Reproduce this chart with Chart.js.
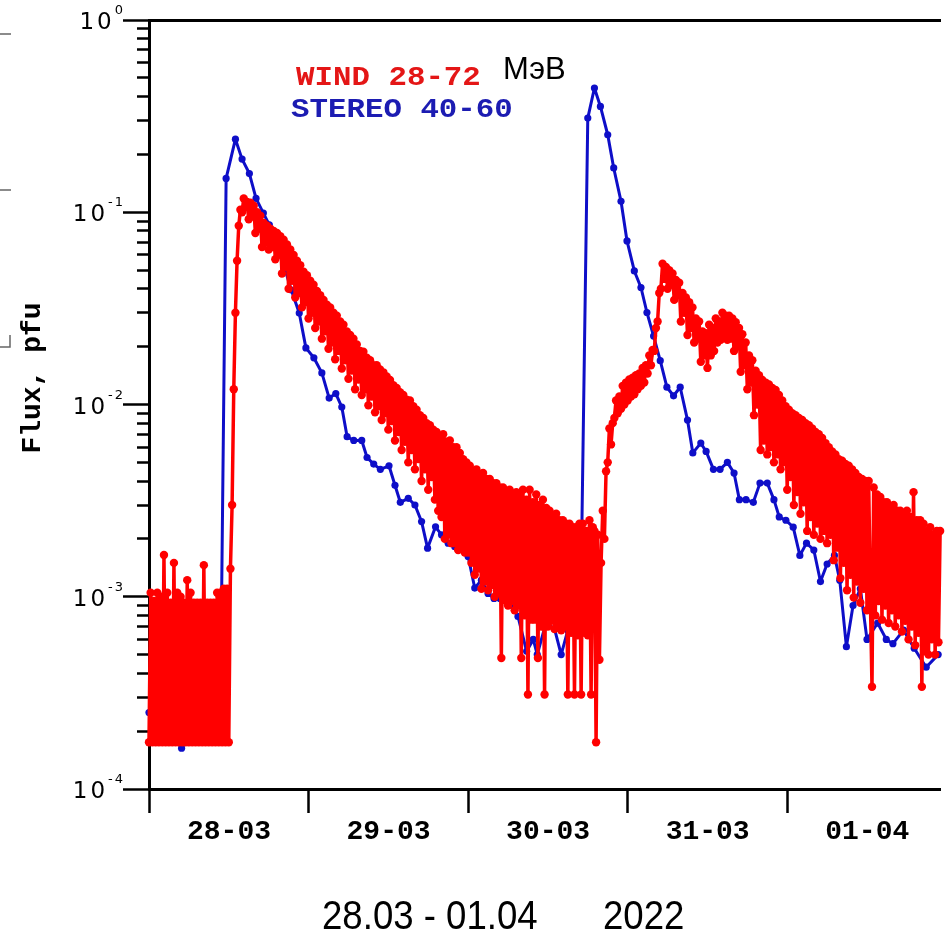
<!DOCTYPE html>
<html><head><meta charset="utf-8">
<script src="https://cdn.jsdelivr.net/npm/chart.js@4.4.1/dist/chart.umd.min.js"></script>
<style>html,body{margin:0;padding:0;background:#fff;overflow:hidden}canvas{display:block}</style>
</head><body>
<canvas id="c" width="945" height="938"></canvas>
<script>
// ---- data ----
const xTickHours = [0, 24, 48, 72, 96];
const xTickLabels = ['28-03', '29-03', '30-03', '31-03', '01-04'];
const yDecadeValues = [1e-4, 1e-3, 1e-2, 1e-1, 1];
const yDecadeExponents = ['-4', '-3', '-2', '-1', '0'];
const yMinorSteps = [2, 3, 4, 5, 6, 7, 8, 9];
const legendWind = 'WIND 28-72';
const legendStereo = 'STEREO 40-60';
const legendUnit = 'МэВ';
const yTitle = 'Flux, pfu';
const captionDates = '28.03 - 01.04';
const captionYear = '2022';

const stereoHours = [0,1,2,3,4,4.9,6,7,8,9,10,10.9,
 11.6,13.0,14.0,15.1,16.1,17.2,18.1,19.2,20.4,21.4,
 22.6,23.6,24.8,26.0,27.1,28.1,29.0,29.8,30.8,32.0,
 32.8,33.8,34.8,36.1,37.0,37.8,39.0,40.0,41.0,41.9,
 43.1,44.0,45.0,46.0,47.0,48.0,49.0,50.0,51.0,51.9,
 52.8,53.7,54.6,55.5,56.8,57.8,58.4,59.7,61.0,62.0,
 63.0,64.0,65.1,66.0,67.0,67.9,69.0,69.9,71.0,71.9,
 73.0,74.0,74.9,75.9,76.9,77.9,78.9,79.9,81.0,81.8,
 83.0,83.8,84.9,85.9,87.0,88.0,88.8,89.8,90.9,91.9,
 93.0,94.0,94.8,95.8,96.9,97.9,98.9,100.0,101.0,102.0,
 103.1,103.9,104.9,105.9,107.0,108.0,109.6,110.9,111.9,113.5,
 115.1,116.9,118.7];
const stereoFlux = [2.5e-4,4.5e-4,6.5e-4,3.5e-4,5e-4,1.63e-4,4.2e-4,7e-4,3e-4,5.5e-4,6e-4,8.5e-4,
 0.150,0.24,0.189,0.159,0.118,0.099,0.086,0.0675,0.0513,0.0394,
 0.0299,0.0197,0.0175,0.0146,0.0108,0.0114,0.0097,0.0068,0.0065,0.0065,
 0.0053,0.0049,0.0046,0.0048,0.0038,0.0031,0.00325,0.0030,0.00246,0.00179,
 0.00231,0.0021,0.0019,0.00182,0.00179,0.00162,0.00111,0.00122,0.00104,0.00098,
 0.00098,0.001,0.0009,0.00079,0.00052,0.0006,0.0005,0.00073,0.00068,0.0005,
 0.00067,0.00096,0.00215,0.309,0.443,0.355,0.253,0.170,0.114,0.0709,
 0.0495,0.0406,0.0301,0.0227,0.0169,0.0123,0.0111,0.0123,0.0083,0.0056,
 0.0063,0.0057,0.0046,0.0046,0.0050,0.0044,0.0032,0.0032,0.0031,0.0039,
 0.0039,0.0032,0.0026,0.0025,0.0023,0.00164,0.0019,0.00175,0.0012,0.00148,
 0.00164,0.00122,0.00055,0.0009,0.0011,0.0006,0.00073,0.0006,0.00057,0.00067,
 0.00054,0.00043,0.0005];

// WIND: one reading every quarter hour from 28-03 00:00
const windStartHour = 0;
const windStepHours = 0.25;
const windFlux = [
 1.75e-4,1.05e-3,1.75e-4,9.5e-4,
 1.75e-4,1.05e-3,1.75e-4,1.0e-3,
 1.75e-4,1.65e-3,1.75e-4,1.05e-3,
 1.75e-4,9.3e-4,1.75e-4,1.5e-3,
 1.75e-4,1.05e-3,1.75e-4,1.0e-3,
 1.75e-4,9.3e-4,1.75e-4,1.22e-3,
 1.75e-4,1.05e-3,1.75e-4,9.3e-4,
 1.75e-4,9.3e-4,1.75e-4,9.3e-4,
 1.75e-4,1.46e-3,1.75e-4,9.3e-4,
 1.75e-4,9.3e-4,1.75e-4,9.3e-4,
 1.75e-4,1.05e-3,1.75e-4,1.05e-3,
 1.75e-4,1.1e-3,1.75e-4,1.1e-3,
 1.75e-4,1.4e-3,3e-3,0.012,
 0.03,0.056,0.085,0.103,
 0.1,0.118,0.106,0.113,
 0.092,0.112,0.095,0.108,
 0.078,0.1,0.082,0.096,
 0.066,0.088,0.07,0.085,
 0.064,0.082,0.066,0.08,
 0.057,0.078,0.06,0.075,
 0.048,0.072,0.052,0.068,
 0.04,0.064,0.044,0.06,
 0.036,0.056,0.038,0.053,
 0.032,0.049,0.034,0.047,
 0.028,0.044,0.03,0.042,
 0.025,0.039,0.027,0.037,
 0.022,0.035,0.024,0.033,
 0.0195,0.032,0.021,0.03,
 0.0172,0.029,0.019,0.027,
 0.0154,0.026,0.017,0.024,
 0.0136,0.023,0.015,0.022,
 0.012,0.0205,0.0135,0.019,
 0.0112,0.0188,0.012,0.0175,
 0.0099,0.017,0.011,0.016,
 0.0091,0.016,0.0098,0.0152,
 0.0083,0.0147,0.009,0.014,
 0.0074,0.0134,0.0082,0.0126,
 0.0065,0.0122,0.0072,0.0116,
 0.0058,0.0112,0.0064,0.0106,
 0.005,0.0105,0.0058,0.0098,
 0.0046,0.0094,0.0052,0.0088,
 0.004,0.0085,0.0046,0.008,
 0.0036,0.0078,0.0042,0.0074,
 0.0032,0.0072,0.0028,0.0068,
 0.0026,0.007,0.002,0.0064,
 0.0021,0.0065,0.0019,0.006,
 0.0019,0.006,0.00175,0.0056,
 0.0018,0.0052,0.0017,0.005,
 0.0017,0.0048,0.0015,0.0045,
 0.0013,0.0046,0.0014,0.0043,
 0.0011,0.0044,0.0012,0.0041,
 0.00108,0.0041,0.00115,0.0039,
 0.001,0.0039,0.00105,0.0037,
 0.00048,0.0037,0.00096,0.0035,
 0.0009,0.0036,0.00095,0.0034,
 0.00085,0.0035,0.0009,0.0033,
 0.00048,0.0036,0.0008,0.0032,
 0.00031,0.0036,0.00076,0.0031,
 0.00076,0.0034,0.00048,0.003,
 0.0007,0.0032,0.00031,0.0029,
 0.0007,0.0028,0.00075,0.0026,
 0.00068,0.0027,0.00072,0.0025,
 0.00067,0.0025,0.0007,0.0024,
 0.00031,0.0024,0.00065,0.0023,
 0.00031,0.0023,0.00063,0.0024,
 0.00031,0.0024,0.00065,0.0022,
 0.00063,0.0025,0.00031,0.0023,
 0.0022,0.000175,0.0021,0.00047,
 0.0015,0.0028,0.002,0.0045,
 0.005,0.0075,0.0062,0.008,
 0.0085,0.0105,0.009,0.011,
 0.0095,0.0125,0.01,0.013,
 0.0105,0.0135,0.011,0.0138,
 0.0113,0.0142,0.012,0.0145,
 0.0125,0.0155,0.013,0.016,
 0.0145,0.018,0.016,0.0192,
 0.019,0.025,0.027,0.038,
 0.04,0.054,0.045,0.052,
 0.04,0.05,0.042,0.048,
 0.035,0.0445,0.037,0.043,
 0.027,0.038,0.03,0.036,
 0.023,0.034,0.025,0.032,
 0.021,0.028,0.022,0.027,
 0.0167,0.024,0.018,0.0235,
 0.0155,0.026,0.018,0.025,
 0.019,0.028,0.021,0.027,
 0.0217,0.03,0.023,0.029,
 0.0217,0.029,0.022,0.028,
 0.019,0.0268,0.02,0.025,
 0.0148,0.0232,0.016,0.021,
 0.012,0.018,0.013,0.017,
 0.0088,0.015,0.01,0.0142,
 0.0058,0.0134,0.0065,0.013,
 0.0055,0.0127,0.006,0.0122,
 0.005,0.0119,0.0055,0.0112,
 0.0046,0.0105,0.005,0.0098,
 0.0036,0.0094,0.0042,0.009,
 0.003,0.0088,0.0035,0.0085,
 0.0027,0.0083,0.0031,0.008,
 0.0022,0.0078,0.0026,0.0075,
 0.0021,0.0072,0.0024,0.007,
 0.002,0.0067,0.0022,0.0063,
 0.0019,0.006,0.0021,0.0057,
 0.00155,0.0055,0.0018,0.0052,
 0.00125,0.0051,0.0015,0.0049,
 0.00108,0.0048,0.0013,0.0046,
 0.00099,0.0044,0.0012,0.0042,
 0.00093,0.0041,0.0011,0.004,
 0.00085,0.004,0.001,0.00034,
 0.0037,0.0008,0.0034,0.00095,
 0.0033,0.00076,0.0031,0.0009,
 0.0031,0.00073,0.0029,0.00085,
 0.003,0.0007,0.0028,0.0008,
 0.0028,0.00066,0.0027,0.00075,
 0.0028,0.0006,0.0026,0.0007,
 0.0035,0.00056,0.0025,0.00065,
 0.0025,0.00034,0.0024,0.00052,
 0.0022,0.0005,0.0023,0.0006,
 0.0021,0.0005,0.0022,0.00058,
 0.0022
];

// ---- build ----
const stereoData = stereoHours.map((h, i) => ({x: h, y: stereoFlux[i]}));
const windData = windFlux.map((v, i) => ({x: windStartHour + i * windStepHours, y: v}));
const yTicks = [];
yDecadeValues.forEach((d, k) => {
  yTicks.push(d);
  if (k < yDecadeValues.length - 1) yMinorSteps.forEach(m => yTicks.push(+(d * m).toPrecision(3)));
});
const isMajor = v => yDecadeValues.some(d => Math.abs(v / d - 1) < 1e-6);

const RED = 'rgb(255,0,0)';
const BLUE = 'rgb(14,14,200)';

const overlay = {
  id: 'overlay',
  afterDraw(chart) {
    const c = chart.ctx, ys = chart.scales.y;
    c.save();
    c.fillStyle = '#000';
    c.textBaseline = 'alphabetic';
    c.textAlign = 'left';
    // y tick labels 10^n
    yDecadeValues.forEach((v, k) => {
      const py = ys.getPixelForValue(v);
      const ex = yDecadeExponents[k];
      c.font = '13px "DejaVu Sans"';
      c.letterSpacing = '0px';
      const ew = c.measureText(ex).width + (ex.length - 1) * 2;
      const exLeft = 123 - ew;
      c.letterSpacing = '2px';
      c.fillText(ex, exLeft, py - 6);
      c.font = '23px "DejaVu Sans"';
      c.letterSpacing = '0px';
      const tw = c.measureText('10').width + 3;
      c.letterSpacing = '3px';
      c.fillText('10', exLeft - 3 - tw, py + 9);
    });
    c.letterSpacing = '0px';
    // y title
    c.save();
    c.translate(33, 378);
    c.rotate(-Math.PI / 2);
    c.font = 'bold 28px "Liberation Mono"';
    c.textAlign = 'center';
    c.textBaseline = 'middle';
    c.fillText(yTitle, 0, 0);
    c.restore();
    // legend
    c.save();
    c.font = 'bold 28px "Liberation Mono"';
    c.translate(296, 85); c.scale(1.1, 1);
    c.fillStyle = 'rgb(228,22,22)';
    c.fillText(legendWind, 0, 0);
    c.restore();
    c.save();
    c.font = 'bold 28px "Liberation Mono"';
    c.translate(291, 117); c.scale(1.1, 1);
    c.fillStyle = 'rgb(28,28,178)';
    c.fillText(legendStereo, 0, 0);
    c.restore();
    c.font = '31px "Liberation Sans"';
    c.fillStyle = '#000';
    c.fillText(legendUnit, 503, 79);
    // caption
    c.save();
    c.font = '40px "Liberation Sans"';
    c.translate(322, 929); c.scale(0.915, 1);
    c.fillText(captionDates, 0, 0);
    c.restore();
    c.save();
    c.font = '40px "Liberation Sans"';
    c.translate(603, 929); c.scale(0.915, 1);
    c.fillText(captionYear, 0, 0);
    c.restore();
    // fragments of neighbouring panel at the left edge
    c.strokeStyle = '#666';
    c.lineWidth = 1.5;
    c.beginPath();
    c.moveTo(0, 34); c.lineTo(11, 34);
    c.moveTo(0, 190); c.lineTo(11, 190);
    c.moveTo(10, 335); c.lineTo(10, 347); c.lineTo(0, 347);
    c.stroke();
    c.restore();
  }
};

new Chart(document.getElementById('c').getContext('2d'), {
  type: 'line',
  data: {
    datasets: [
      { label: legendWind, data: windData, borderColor: RED, backgroundColor: RED,
        borderWidth: 3.5, borderJoinStyle: 'round', pointRadius: 4.2, pointBorderWidth: 0, pointBackgroundColor: RED,
        tension: 0, order: 1, clip: false },
      { label: legendStereo, data: stereoData, borderColor: BLUE, backgroundColor: BLUE,
        borderWidth: 3, borderJoinStyle: 'round', pointRadius: 3.6, pointBorderWidth: 0, pointBackgroundColor: BLUE,
        tension: 0, order: 2, clip: false }
    ]
  },
  options: {
    responsive: false, animation: false, devicePixelRatio: 1,
    layout: { padding: 0 },
    plugins: { legend: { display: false }, tooltip: { enabled: false }, title: { display: false } },
    scales: {
      x: {
        type: 'linear', position: 'bottom', min: 0, max: 119.1,
        afterBuildTicks: s => { s.ticks = xTickHours.map(v => ({ value: v })); },
        afterFit: s => { s.height = 149; },
        ticks: { autoSkip: false, maxRotation: 0, minRotation: 0, labelOffset: 80, padding: 2, color: '#000',
          font: { family: '"Liberation Mono"', size: 28, weight: 'bold' },
          callback: (v, i) => xTickLabels[i] },
        grid: { drawOnChartArea: false, drawTicks: true, tickLength: 24, tickWidth: 2.5, tickColor: '#000', color: '#000' },
        border: { display: true, color: '#000', width: 3 }
      },
      xTop: {
        type: 'linear', position: 'top', min: 0, max: 119.1,
        afterFit: s => { s.height = 20; },
        ticks: { display: false },
        grid: { drawOnChartArea: false, drawTicks: false },
        border: { display: true, color: '#000', width: 3 }
      },
      y: {
        type: 'logarithmic', position: 'left', min: 1e-4, max: 1,
        afterBuildTicks: s => { s.ticks = yTicks.map(v => ({ value: v, major: isMajor(v) })); },
        afterFit: s => { s.width = 149; },
        ticks: { display: false, autoSkip: false },
        grid: { drawOnChartArea: false, drawTicks: true, tickLength: 26, tickWidth: 2.5, tickColor: '#000', color: '#000',
          tickBorderDash: ctx => (ctx.tick && isMajor(ctx.tick.value)) ? [] : [0, 14, 12, 0] },
        border: { display: true, color: '#000', width: 3 }
      }
    }
  },
  plugins: [overlay]
});
</script>
</body></html>
